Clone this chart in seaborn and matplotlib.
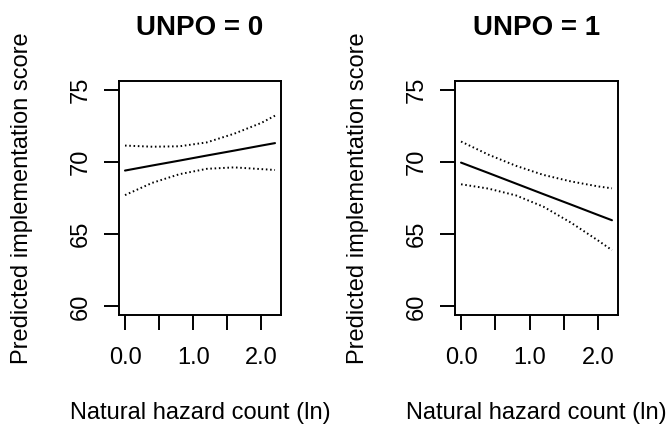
import numpy as np
import pandas as pd
import matplotlib
matplotlib.use("Agg")
import matplotlib.pyplot as plt
import seaborn as sns

# ---- data ----
hazard = [0.0, 0.4, 0.8, 1.2, 1.6, 2.0, 2.2]

fit_unpo0 = [69.40, 69.75, 70.09, 70.44, 70.78, 71.13, 71.30]
upr_unpo0 = [71.13, 71.05, 71.08, 71.35, 71.95, 72.70, 73.20]
lwr_unpo0 = [67.70, 68.55, 69.15, 69.52, 69.62, 69.50, 69.44]

fit_unpo1 = [69.95, 69.23, 68.50, 67.77, 67.05, 66.32, 65.96]
upr_unpo1 = [71.41, 70.50, 69.73, 69.10, 68.65, 68.30, 68.17]
lwr_unpo1 = [68.45, 68.15, 67.68, 66.90, 65.80, 64.55, 63.89]

titles = ["UNPO = 0", "UNPO = 1"]
x_ticks = [0.0, 0.5, 1.0, 1.5, 2.0]
x_ticklabels = ["0.0", "", "1.0", "", "2.0"]
y_ticks = [60, 65, 70, 75]
x_label = "Natural hazard count (ln)"
y_label = "Predicted implementation score"

sns.set_theme(style="white")
plt.rcParams["font.family"] = ["Liberation Sans", "DejaVu Sans"]
plt.rcParams["text.color"] = "black"
plt.rcParams["axes.labelcolor"] = "black"
plt.rcParams["xtick.color"] = "black"
plt.rcParams["ytick.color"] = "black"

fig = plt.figure(figsize=(6.67, 4.24), dpi=100)
W, H = 667, 424
boxes = [(119, 281), (455, 618)]
top_px, bot_px = 81, 315
ah = bot_px - top_px

panels = [(fit_unpo0, upr_unpo0, lwr_unpo0), (fit_unpo1, upr_unpo1, lwr_unpo1)]
dots = (0, (0.8, 1.4))

for i, ((l, r), (fit, upr, lwr)) in enumerate(zip(boxes, panels)):
    ax = fig.add_axes([l / W, 1 - bot_px / H, (r - l) / W, ah / H])
    df = pd.DataFrame({"x": hazard, "fit": fit, "upr": upr, "lwr": lwr})
    sns.lineplot(data=df, x="x", y="fit", ax=ax, color="black", lw=1.5)
    sns.lineplot(data=df, x="x", y="upr", ax=ax, color="black", lw=1.4,
                 linestyle=dots)
    sns.lineplot(data=df, x="x", y="lwr", ax=ax, color="black", lw=1.4,
                 linestyle=dots)
    ax.set_xlim(-0.088, 2.288)
    ax.set_ylim(59.4, 75.6)
    ax.set_xticks(x_ticks)
    ax.set_xticklabels(x_ticklabels)
    ax.set_yticks(y_ticks)
    ax.set_yticklabels([str(v) for v in y_ticks])
    for s in ax.spines.values():
        s.set_visible(True)
        s.set_color("black")
        s.set_linewidth(1.4)
    ax.tick_params(axis="both", direction="out", length=10.5, width=1.4,
                   color="black", labelsize=17, labelcolor="black",
                   bottom=True, left=True)
    ax.tick_params(axis="x", pad=12.5)
    ax.tick_params(axis="y", pad=9.4, labelrotation=90)
    for lab in ax.get_yticklabels():
        lab.set_va("center")
    ax.set_title(titles[i], fontsize=20, fontweight="bold", pad=33,
                 color="black")
    ax.set_xlabel(x_label, fontsize=17, color="black")
    ax.set_ylabel(y_label, fontsize=17, color="black")
    ax.xaxis.set_label_coords(0.5, -(413 - bot_px) / ah)
    ax.xaxis.label.set_va("center")
    ax.yaxis.set_label_coords(-97 / (r - l), 0.5)
    ax.yaxis.label.set_va("center")

fig.savefig("out.png", dpi=100)
